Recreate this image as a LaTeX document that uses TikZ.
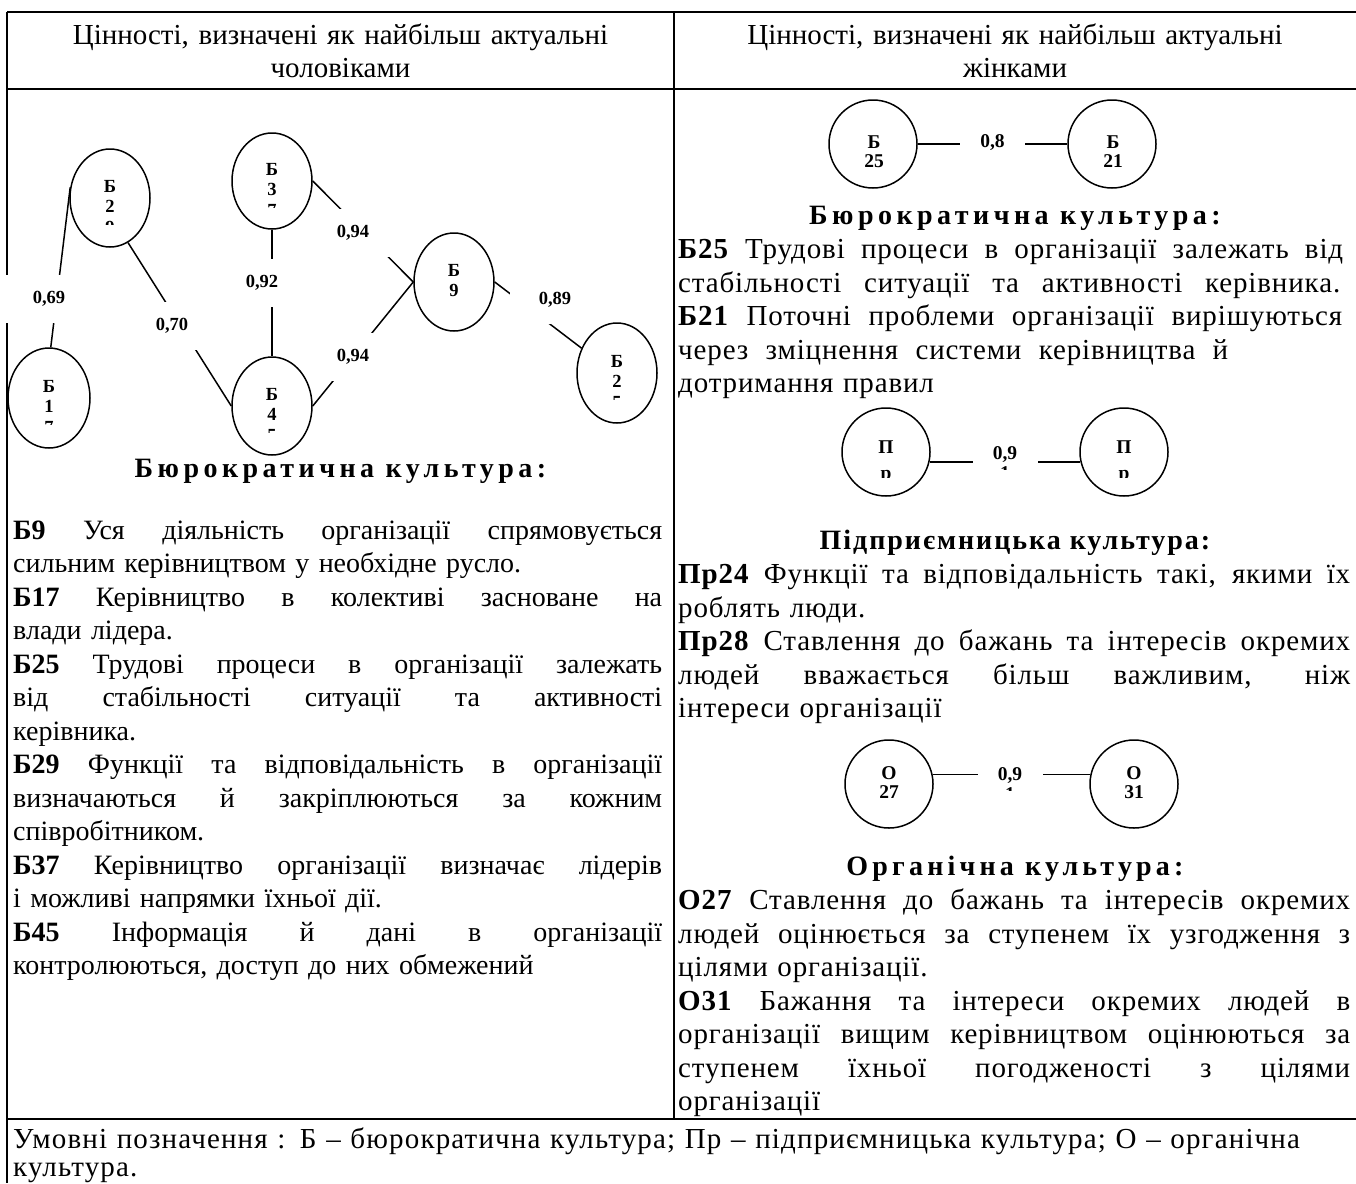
\documentclass[tikz,border=0pt]{standalone}
\usepackage{fontspec}
\setmainfont{Liberation Serif}
\usetikzlibrary{shapes.geometric}
\setlength{\parindent}{0pt}
\newcommand\bodyf{\fontsize{29}{33.5}\selectfont\addfontfeatures{LetterSpace=3}}
\newcommand\leftf{\fontsize{28}{33.5}\selectfont}
\newcommand\headf{\fontsize{28}{33.5}\selectfont\bfseries}
\newcommand\smb[1]{\fontsize{18.5}{#1}\selectfont\bfseries}
\newcommand\cb[1]{\fontsize{19.5}{#1}\selectfont\bfseries}
\newcommand\JW[2]{\makebox[#1pt][s]{\spaceskip=0pt\xspaceskip=0pt\strut #2}}
\newcommand\JL[1]{\JW{649}{#1}}
\newcommand\JR[1]{\JW{672}{#1}}
\newcommand\LS[1]{\addfontfeatures{LetterSpace=#1}}
\begin{document}
\begin{tikzpicture}[x=1pt,y=-1pt,
  frame/.style={line width=1.8pt},
  conn/.style={line width=1.5pt},
  ell/.style={draw, ellipse, line width=1.5pt, minimum width=80pt, minimum height=98pt, inner sep=0pt},
  circ/.style={draw, circle, line width=1.5pt, minimum size=88pt, inner sep=0pt},
  lbl/.style={fill=white, minimum width=90pt, minimum height=48pt, inner sep=0pt, font=\smb{20.5}},
  rbox/.style={fill=white, minimum width=65pt, minimum height=16pt, inner sep=0pt, font=\cb{20}},
  etxt/.style={anchor=north, inner sep=0pt, text width=44pt, align=center},
  body/.style={anchor=north west, inner sep=0pt, align=left, font=\bodyf},
  ttl/.style={anchor=base, inner sep=0pt, font=\headf}
]
\useasboundingbox (0,0) rectangle (1356,1183);
% table frame
\draw[frame] (7,12) -- (1356,12);
\draw[frame] (7,89) -- (1356,89);
\draw[frame] (7,1119) -- (1356,1119);
\draw[frame] (7,12) -- (7,1183);
\draw[frame] (674,12) -- (674,1119);
% header
\node[anchor=north, inner sep=0pt, text width=640pt, align=center, font=\fontsize{29}{33}\selectfont] (hl) at (340.5,20.9)
  {\strut Цінності, визначені як найбільш актуальні\\\strut чоловіками};
\node[anchor=north, inner sep=0pt, text width=640pt, align=center, font=\fontsize{29}{33}\selectfont] (hr) at (1015,20.9)
  {\strut Цінності, визначені як найбільш актуальні\\\strut жінками};

% ---- left graph ----
\node[ell] (b29) at (110,198) {};
\node[ell, minimum width=82pt, minimum height=100pt] (b17) at (49,398) {};
\node[ell, minimum height=96pt] (b37) at (272,181) {};
\node[ell] (b45) at (272,406) {};
\node[ell] (b9) at (454,282) {};
\node[ell, minimum height=100pt] (b25e) at (617,373) {};

\draw[conn] (b29.165) -- (b17.88);
\draw[conn] (b29.-68) -- (b45.west);
\draw[conn] (b37.south) -- (b45.north);
\draw[conn] (b37.east) -- (b9.west);
\draw[conn] (b45.east) -- (b9.west);
\draw[conn] (b9.east) -- (b25e.145);

\node[lbl] (l69) at (49,299) {0,69};
\node[lbl] (l70) at (172,326) {0,70};
\node[lbl] (l92) at (262,283) {0,92};
\node[lbl] (l94a) at (353,233) {0,94};
\node[lbl] (l94b) at (353,357) {0,94};
\node[lbl] (l89) at (555,300) {0,89};

\begin{scope}\clip (60,140) rectangle (160,224);
\node[etxt, font=\smb{20.5}] (b29t) at (110,177.65) {\strut Б\\\strut 2\\\strut 9};\end{scope}
\begin{scope}\clip (0,340) rectangle (100,424);
\node[etxt, font=\smb{20.5}] (b17t) at (49,377.65) {\strut Б\\\strut 1\\\strut 7};\end{scope}
\begin{scope}\clip (222,120) rectangle (322,207);
\node[etxt, font=\smb{20.5}] (b37t) at (272,160.65) {\strut Б\\\strut 3\\\strut 7};\end{scope}
\begin{scope}\clip (222,350) rectangle (322,432);
\node[etxt, font=\smb{20.5}] (b45t) at (272,385.65) {\strut Б\\\strut 4\\\strut 5};\end{scope}
\node[etxt, font=\smb{20.5}] (b9t) at (454,261.65) {\strut Б\\\strut 9};
\begin{scope}\clip (567,320) rectangle (667,399);
\node[etxt, font=\smb{20.5}] (b25et) at (617,352.65) {\strut Б\\\strut 2\\\strut 5};\end{scope}

% left text
\node[ttl] (lh) at (340.5,477) {\LS{16}Бюрократична культура:};
\node[body, text width=649pt, font=\leftf] (lt) at (13,515.55) {%
\JL{\textbf{Б9} Уся діяльність організації спрямовується}\\
\strut сильним керівництвом у необхідне русло.\\
\JL{\textbf{Б17} Керівництво в колективі засноване на}\\
\strut влади лідера.\\
\JL{\textbf{Б25} Трудові процеси в організації залежать}\\
\JL{від стабільності ситуації та активності}\\
\strut керівника.\\
\JL{\textbf{Б29} Функції та відповідальність в організації}\\
\JL{визначаються й закріплюються за кожним}\\
\strut співробітником.\\
\JL{\textbf{Б37} Керівництво організації визначає лідерів}\\
\strut і можливі напрямки їхньої дії.\\
\JL{\textbf{Б45} Інформація й дані в організації}\\
\strut контролюються, доступ до них обмежений};

% ---- right column ----
\node[circ] (c25) at (873,144) {};
\node[circ] (c21) at (1112,144) {};
\draw[conn] (c25.east) -- (c21.west);
\node[rbox] (l8) at (992.5,143) {0,8};
\node[etxt, font=\cb{18}] (c25t) at (874,135.4) {\strut Б\\\strut 25};
\node[etxt, font=\cb{18}] (c21t) at (1113,135.4) {\strut Б\\\strut 21};

\node[ttl] (rh1) at (1015,224.5) {\LS{16}Бюрократична культура:};
\node[body, text width=680pt] (rt1) at (678,235.05) {%
\JW{665}{\textbf{Б25} Трудові процеси в організації залежать від}\\
\JW{662}{стабільності ситуації та активності керівника.}\\
\JW{664}{\textbf{Б21} Поточні проблеми організації вирішуються}\\
\JW{550}{через зміцнення системи керівництва й}\\
\strut дотримання правил};

\node[circ] (p24) at (886,452) {};
\node[circ] (p28) at (1124,452) {};
\draw[conn] (p24.-13) -- (p28.193);
\node[rbox] (l9a) at (1005.5,463) {};
\begin{scope}\clip (950,430) rectangle (1060,469.5);
\node[etxt, font=\cb{20}] (l9at) at (1005,445) {\strut 0,9\\\strut 1};\end{scope}
\begin{scope}\clip (830,400) rectangle (1180,477);
\node[etxt, font=\cb{26}] (p24t) at (886,434.8) {\strut П\\\strut р};
\node[etxt, font=\cb{26}] (p28t) at (1124,434.8) {\strut П\\\strut р};\end{scope}

\node[ttl] (rh2) at (1015,549.5) {\LS{7}Підприємницька культура:};
\node[body, text width=672pt] (rt2) at (678,560.05) {%
\JR{\textbf{Пр24} Функції та відповідальність такі, якими їх}\\
\strut роблять люди.\\
\JR{\textbf{Пр28} Ставлення до бажань та інтересів окремих}\\
\JR{людей вважається більш важливим, ніж}\\
\strut інтереси організації};

\node[circ] (o27) at (889,784) {};
\node[circ] (o31) at (1134,784) {};
\draw[conn] (o27.12) -- (o31.168);
\node[rbox] (l9b) at (1010,774) {};
\begin{scope}\clip (950,750) rectangle (1070,790);
\node[etxt, font=\cb{20}] (l9bt) at (1010,766) {\strut 0,9\\\strut 1};\end{scope}
\node[etxt, font=\cb{19}] (o27t) at (889,765.7) {\strut О\\\strut 27};
\node[etxt, font=\cb{19}] (o31t) at (1134,765.7) {\strut О\\\strut 31};

\node[ttl] (rh3) at (1015,875.5) {\LS{15}Органічна культура:};
\node[body, text width=672pt] (rt3) at (678,886.05) {%
\JR{\textbf{О27} Ставлення до бажань та інтересів окремих}\\
\JR{людей оцінюється за ступенем їх узгодження з}\\
\strut цілями організації.\\
\JR{\textbf{О31} Бажання та інтереси окремих людей в}\\
\JR{організації вищим керівництвом оцінюються за}\\
\JR{ступенем їхньої погодженості з цілями}\\
\strut організації};

% footer
\node[body, text width=1330pt, font=\fontsize{29}{27.5}\selectfont\addfontfeatures{LetterSpace=4}] (ft) at (13,1128) {%
\strut Умовні позначення : Б – бюрократична культура; Пр – підприємницька культура; О – органічна\\
\strut культура.};
\end{tikzpicture}
\end{document}
